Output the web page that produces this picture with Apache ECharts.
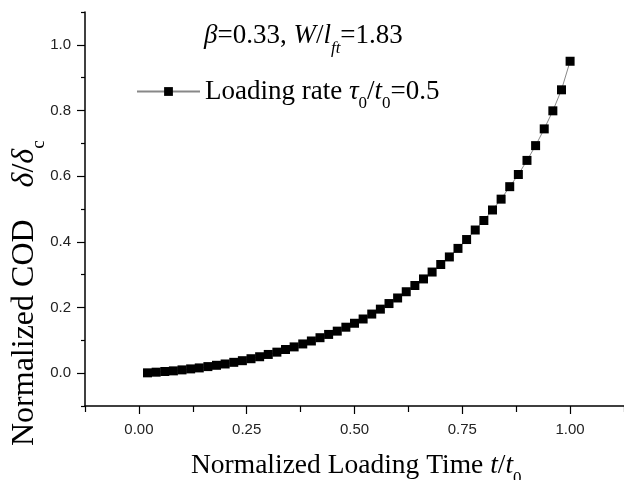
<!DOCTYPE html>
<html><head><meta charset="utf-8">
<script src="https://cdn.jsdelivr.net/npm/echarts@6/dist/echarts.min.js"></script>
<style>html,body{margin:0;padding:0;background:#fff}#c{width:624px;height:480px}</style>
</head><body><div id="c"></div>
<script>
// ---- data ----
const tValues = [0.02,0.04,0.06,0.08,0.10,0.12,0.14,0.16,0.18,0.20,
  0.22,0.24,0.26,0.28,0.30,0.32,0.34,0.36,0.38,0.40,
  0.42,0.44,0.46,0.48,0.50,0.52,0.54,0.56,0.58,0.60,
  0.62,0.64,0.66,0.68,0.70,0.72,0.74,0.76,0.78,0.80,
  0.82,0.84,0.86,0.88,0.90,0.92,0.94,0.96,0.98,1.00];
const codValues = [0.001,0.003,0.005,0.007,0.010,0.013,0.016,0.020,0.024,0.028,
  0.033,0.038,0.044,0.050,0.057,0.064,0.072,0.080,0.089,0.098,
  0.108,0.118,0.128,0.140,0.152,0.165,0.180,0.195,0.212,0.229,
  0.248,0.267,0.287,0.308,0.331,0.354,0.380,0.407,0.436,0.465,
  0.497,0.530,0.568,0.605,0.648,0.693,0.744,0.799,0.863,0.950];
const xMajorTicks = [0, 0.25, 0.5, 0.75, 1.0];
const xTickLabels = ['0.00','0.25','0.50','0.75','1.00'];
const xMinorTicks = [-0.125, 0.125, 0.375, 0.625, 0.875, 1.125];
const yMajorTicks = [0, 0.2, 0.4, 0.6, 0.8, 1.0];
const yTickLabels = ['0.0','0.2','0.4','0.6','0.8','1.0'];
const yMinorTicks = [-0.1, 0.1, 0.3, 0.5, 0.7, 0.9, 1.1];
const seriesName = 'Loading rate';

const serif = '"Liberation Serif","Times New Roman",serif';
const sans = '"Liberation Sans",Arial,sans-serif';
const LH = 42;
const rich = {
  n: {fontFamily: serif, fontSize: 27, lineHeight: LH, color: '#000'},
  i: {fontFamily: serif, fontSize: 27, fontStyle: 'italic', lineHeight: LH, color: '#000'},
  s: {fontFamily: serif, fontSize: 17, lineHeight: 14, verticalAlign: 'bottom', color: '#000'},
  si: {fontFamily: serif, fontSize: 17, fontStyle: 'italic', lineHeight: 14, verticalAlign: 'bottom', color: '#000'}
};
const richX = {
  n: {fontFamily: serif, fontSize: 27.5, lineHeight: LH, color: '#000'},
  i: {fontFamily: serif, fontSize: 27.5, fontStyle: 'italic', lineHeight: LH, color: '#000'},
  s: {fontFamily: serif, fontSize: 17, lineHeight: 14, verticalAlign: 'bottom', color: '#000'}
};
const richY = {
  n: {fontFamily: serif, fontSize: 32, lineHeight: 48, color: '#000'},
  i: {fontFamily: serif, fontSize: 32, fontStyle: 'italic', lineHeight: 48, color: '#000'},
  s: {fontFamily: serif, fontSize: 19, lineHeight: 16, verticalAlign: 'bottom', color: '#000'}
};

const chart = echarts.init(document.getElementById('c'), null, {renderer: 'canvas'});
const axisLineStyle = {color: '#000', width: 1.5};
const tickFmt = (labels, ticks) => v => {
  const k = ticks.findIndex(t => Math.abs(t - v) < 1e-6);
  return k >= 0 ? labels[k] : '';
};
chart.setOption({
  animation: false,
  backgroundColor: '#fff',
  grid: {left: 85, right: 0, top: 12, bottom: 74, containLabel: false},
  xAxis: [{
    type: 'value', min: -0.125, max: 1.125, position: 'bottom',
    axisLine: {show: true, onZero: false, lineStyle: axisLineStyle},
    axisTick: {show: true, length: 8, inside: false, customValues: xMajorTicks, lineStyle: {color: '#000', width: 1.2}},
    axisLabel: {show: true, customValues: xMajorTicks, formatter: tickFmt(xTickLabels, xMajorTicks), margin: 16,
      fontFamily: sans, fontSize: 15, color: '#222'},
    splitLine: {show: false}
  }, {
    type: 'value', min: -0.125, max: 1.125, position: 'bottom',
    axisLine: {show: false, onZero: false},
    axisTick: {show: true, length: 6, inside: false, customValues: xMinorTicks, lineStyle: {color: '#000', width: 1.2}},
    axisLabel: {show: false}, splitLine: {show: false}
  }],
  yAxis: [{
    type: 'value', min: -0.1, max: 1.1, position: 'left',
    axisLine: {show: true, onZero: false, lineStyle: axisLineStyle},
    axisTick: {show: true, length: 8, inside: false, customValues: yMajorTicks, lineStyle: {color: '#000', width: 1.2}},
    axisLabel: {show: true, customValues: yMajorTicks, formatter: tickFmt(yTickLabels, yMajorTicks), margin: 14,
      fontFamily: sans, fontSize: 15, color: '#222'},
    splitLine: {show: false}
  }, {
    type: 'value', min: -0.1, max: 1.1, position: 'left',
    axisLine: {show: false, onZero: false},
    axisTick: {show: true, length: 4, inside: false, customValues: yMinorTicks, lineStyle: {color: '#000', width: 1.2}},
    axisLabel: {show: false}, splitLine: {show: false}
  }],
  legend: {
    show: true, left: 136, top: 78, padding: 0, itemWidth: 63, itemHeight: 11,
    data: [seriesName],
    formatter: () => '{n|Loading rate }{i|τ}{s|0}{n|/}{i|t}{s|0}{n|=0.5}',
    textStyle: {rich: rich}
  },
  series: [{
    name: seriesName, type: 'line', xAxisIndex: 0, yAxisIndex: 0,
    data: tValues.map((t, k) => [t, codValues[k]]),
    symbol: 'rect', symbolSize: 9,
    itemStyle: {color: '#000'},
    lineStyle: {color: '#888', width: 1},
    showAllSymbol: true, clip: false
  }],
  graphic: [
    {type: 'text', x: 204, y: 36, style: {
      text: '{i|β}{n|=0.33, }{i|W}{n|/}{i|l}{si|ft}{n|=1.83}', rich: rich, align: 'left', verticalAlign: 'middle'}},
    {type: 'text', x: 191, y: 466, style: {
      text: '{n|Normalized Loading Time }{i|t}{n|/}{i|t}{s|0}', rich: richX, align: 'left', verticalAlign: 'middle'}},
    {type: 'text', x: 25, y: 446, rotation: Math.PI / 2, style: {
      text: '{n|Normalized COD    }{i|δ}{n|/}{i|δ}{s|c}', rich: richY, align: 'left', verticalAlign: 'middle'}}
  ]
});
</script></body></html>
